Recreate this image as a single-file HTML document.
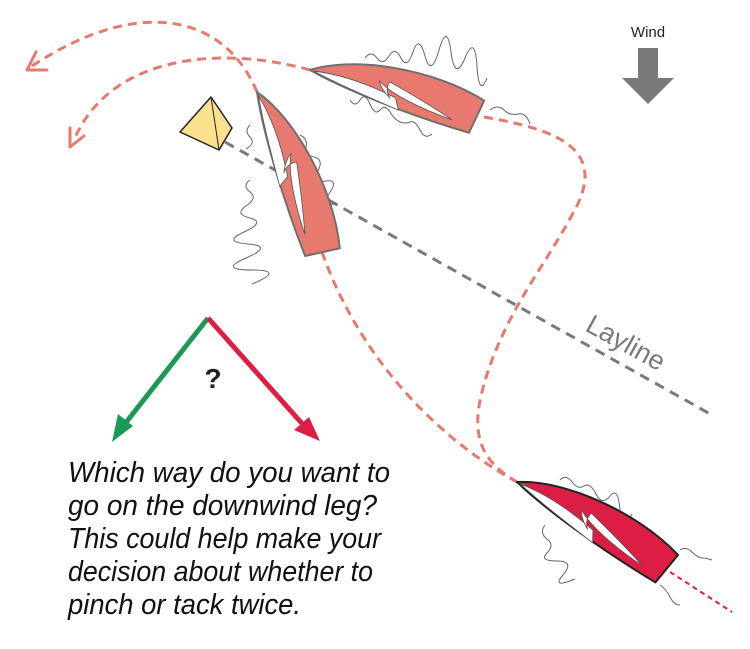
<!DOCTYPE html>
<html><head><meta charset="utf-8"><style>html,body{margin:0;padding:0;background:#fff}svg{display:block}</style></head>
<body>
<svg width="750" height="649" viewBox="0 0 750 649" xmlns="http://www.w3.org/2000/svg">
<defs>
<g id="boat">
  <path d="M0,0 C40,-26 120,-34 176,-17 L170,18 C110,17 40,10 0,0 Z" stroke-width="2" stroke-linejoin="round"/>
  <path d="M4,0 C30,-4 60,-2 90,4 C92,8 94,12 96,15 C60,10 30,6 4,0 Z" fill="#fff" stroke="#555" stroke-width="0.8"/>
  <path d="M70,-8 C85,2 120,8 150,10 C120,0 95,-6 80,-10 C78,-4 80,2 85,6 C78,2 72,-3 70,-8 Z" fill="#fff" stroke="#555" stroke-width="0.8"/>
</g>
</defs>
<g fill="none" stroke="#e8796e" stroke-width="3" stroke-dasharray="9,6">
  <path d="M310,70 C220,45 110,55 74,140"/>
  <path d="M257,92 C225,15 140,-5 32,66"/>
  <path d="M484,117 C560,130 610,150 572,215 C545,265 515,300 492,360 C470,420 470,455 517,482"/>
  <path d="M322,252 C360,360 440,440 517,482"/>
</g>
<g fill="none" stroke="#e8796e" stroke-width="3" stroke-linecap="round">
  <path d="M70,147 L70,128 M70,147 L84,136"/>
  <path d="M27,70 L36,52 M27,70 L47,70"/>
</g>
<path d="M670,572 L732,612" stroke="#dc1e45" stroke-width="2" stroke-dasharray="5,4"/>
<path d="M225,142 L712,415" stroke="#7a7a7a" stroke-width="3" stroke-dasharray="10,7"/>
<g fill="none" stroke="#666" stroke-width="1">
  <path d="M365,58 q6,-8 12,0 t12,-2 t12,2 t12,-6 t12,4 t14,-6 t12,2 t14,6 t12,8 t10,12"/>
  <path d="M350,100 q5,8 10,0 t10,4 t10,6 t10,2 t10,10 t10,0 t10,8 t12,4"/>
  <path d="M490,110 q8,-6 14,0 t14,4 t12,10"/>
  <path d="M250,180 q-8,6 0,12 t-4,14 t4,12 t-6,14 t4,12 t-2,14 t6,12 t0,14"/>
  <path d="M250,125 q-6,6 0,12 t-4,12"/>
  <path d="M300,135 q8,4 6,12 t8,10 t4,14 t8,10 t2,14 t8,8"/>
  <path d="M560,480 q6,-6 12,2 t12,4 t12,8 t14,2 t10,14 t12,4"/>
  <path d="M545,525 q-6,8 2,14 t0,14 t10,8 t6,14 t12,4"/>
  <path d="M680,550 q6,-4 12,2 t10,6 t10,2"/>
  <path d="M660,585 q6,4 10,12 t10,8"/>
</g>
<g fill="#e8796e" stroke="#6f6f6f"><use href="#boat" transform="translate(310,70) rotate(15.5)"/></g>
<g fill="#e8796e" stroke="#6f6f6f"><use href="#boat" transform="translate(257,92) rotate(67.6)"/></g>
<g fill="#dc1e45" stroke="#222"><use href="#boat" transform="translate(517,482) rotate(29.9)"/></g>
<path d="M180,132 L211,97 L232,128 L219,150 Z" fill="#fbe08e" stroke="#222" stroke-width="1.5" stroke-linejoin="round"/>
<path d="M211,97 L219,150" stroke="#222" stroke-width="1" fill="none"/>
<path d="M638,48 L638,78 L622,78 L648,104 L674,78 L658,78 L658,48 Z" fill="#7a7a7a"/>
<text x="648" y="37" font-family="Liberation Sans, sans-serif" font-size="15" text-anchor="middle" fill="#222">Wind</text>
<text x="584" y="330" font-family="Liberation Sans, sans-serif" font-size="27" fill="#7a7a7a" transform="rotate(29 584 330)">Layline</text>
<path d="M208,318 L124,425" stroke="#1a9a55" stroke-width="5"/>
<path d="M112,442 L118,414 L133,426 Z" fill="#1a9a55"/>
<path d="M208,318 L306,428" stroke="#dc1e45" stroke-width="5"/>
<path d="M320,441 L294,430 L309,417 Z" fill="#dc1e45"/>
<text x="213" y="388" font-family="Liberation Sans, sans-serif" font-weight="bold" font-size="28" text-anchor="middle" fill="#222">?</text>
<g font-family="Liberation Sans, sans-serif" font-style="italic" font-size="29" fill="#111">
  <text x="68" y="482" textLength="322" lengthAdjust="spacingAndGlyphs">Which way do you want to</text>
  <text x="68" y="515" textLength="309" lengthAdjust="spacingAndGlyphs">go on the downwind leg?</text>
  <text x="68" y="548" textLength="313" lengthAdjust="spacingAndGlyphs">This could help make your</text>
  <text x="68" y="581" textLength="305" lengthAdjust="spacingAndGlyphs">decision about whether to</text>
  <text x="68" y="614" textLength="233" lengthAdjust="spacingAndGlyphs">pinch or tack twice.</text>
</g>
</svg>
</body></html>
